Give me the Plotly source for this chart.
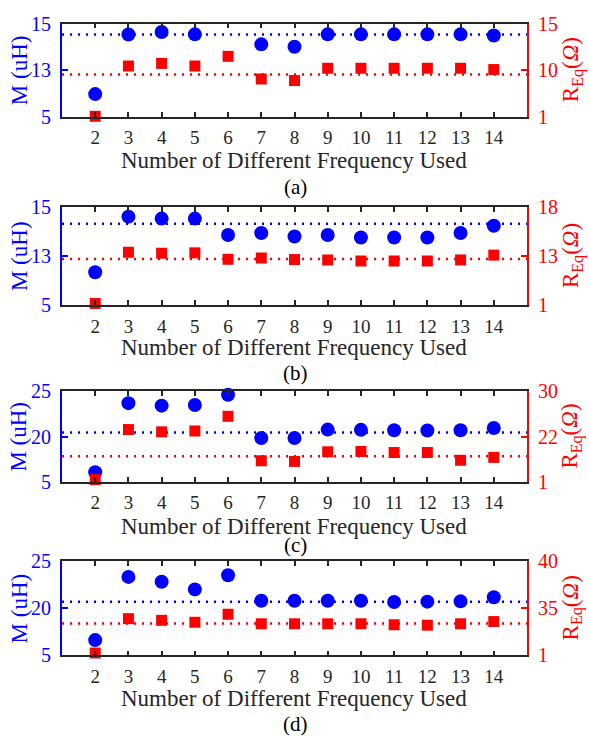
import numpy as np
import plotly.graph_objects as go

# ---------------- data ----------------
freq_used = [2, 3, 4, 5, 6, 7, 8, 9, 10, 11, 12, 13, 14]
x_ticks = list(range(2, 15))

# panel (a)
m_a = [8.9, 14.53, 14.64, 14.54, None, 14.11, 14.01, 14.54, 14.54, 14.54, 14.54, 14.54, 14.49]
r_a = [1.1, 10.45, 10.73, 10.45, 11.49, 8.31, 8.0, 10.21, 10.21, 10.21, 10.21, 10.21, 10.07]
m_ref_a = 14.53
r_ref_a = 9.19
m_ticks_a = [5, 13, 15]
r_ticks_a = [1, 10, 15]

# panel (b)
m_b = [10.37, 14.61, 14.53, 14.53, 13.86, 13.94, 13.80, 13.86, 13.76, 13.76, 13.76, 13.94, 14.24]
r_b = [1.4, 13.39, 13.29, 13.33, 12.22, 12.53, 12.15, 12.05, 11.8, 11.8, 11.8, 12.05, 13.1]
m_ref_b = 14.32
r_ref_b = 12.29
m_ticks_b = [5, 13, 15]
r_ticks_b = [1, 13, 18]

# panel (c)
m_c = [8.2, 23.71, 23.43, 23.5, 24.64, 19.55, 19.55, 20.78, 20.75, 20.71, 20.68, 20.71, 20.96]
r_c = [2.0, 23.25, 22.85, 23.0, 25.6, 10.76, 10.46, 14.94, 15.1, 14.6, 14.6, 11.0, 12.35]
m_ref_c = 20.46
r_ref_c = 12.83
m_ticks_c = [5, 20, 25]
r_ticks_c = [1, 22, 30]

# panel (d)
m_d = [9.9, 23.35, 22.84, 22.02, 23.53, 20.82, 20.82, 20.82, 20.82, 20.68, 20.72, 20.75, 21.19]
r_d = [2.8, 27.6, 26.4, 25.0, 30.8, 23.9, 23.9, 23.9, 23.9, 23.2, 22.9, 23.9, 25.5]
m_ref_d = 20.72
r_ref_d = 24.1
m_ticks_d = [5, 20, 25]
r_ticks_d = [1, 35, 40]

panel_labels = ["(a)", "(b)", "(c)", "(d)"]
x_title = "Number of Different Frequency Used"
m_title = "M (uH)"
r_title = "R<sub>Eq</sub>(<i>Ω</i>)"

# ---------------- styling / layout ----------------
W, H = 589, 749
BLUE = "#0000FF"
RED = "#FF0000"
DARK = "#262626"
FONT = "Times New Roman, Liberation Serif, DejaVu Serif, serif"

x_left_px, x_right_px = 62, 527
panel_px = [(13, 109), (202, 303), (392, 485), (567, 664)]
xlabel_px = [154, 347, 531, 708]
plabel_px = [181, 373, 550, 735]

panels = [
    (m_a, r_a, m_ref_a, r_ref_a, m_ticks_a, r_ticks_a),
    (m_b, r_b, m_ref_b, r_ref_b, m_ticks_b, r_ticks_b),
    (m_c, r_c, m_ref_c, r_ref_c, m_ticks_c, r_ticks_c),
    (m_d, r_d, m_ref_d, r_ref_d, m_ticks_d, r_ticks_d),
]

pos = [0, 1, 2]  # broken scale: each labelled tick evenly spaced


def to_axis(vals, ticks):
    return [None if v is None else float(np.interp(v, ticks, pos)) for v in vals]


fig = go.Figure()
annotations = []
layout = {}

xd = [x_left_px / W, x_right_px / W]

for k, (m, r, m_ref, r_ref, mt, rt) in enumerate(panels):
    i = k + 1
    xa = "x" if i == 1 else f"x{i}"
    yl_n = 2 * i - 1
    yr_n = 2 * i
    yl = "y" if yl_n == 1 else f"y{yl_n}"
    yr = f"y{yr_n}"
    top, bot = panel_px[k]
    yd = [1 - bot / H, 1 - top / H]

    # reference dotted lines
    fig.add_trace(go.Scatter(
        x=[1, 15], y=to_axis([m_ref, m_ref], mt), mode="lines",
        line=dict(color=BLUE, width=2.5, dash="2px,6px"),
        xaxis=xa, yaxis=yl, showlegend=False, hoverinfo="skip"))
    fig.add_trace(go.Scatter(
        x=[1, 15], y=to_axis([r_ref, r_ref], rt), mode="lines",
        line=dict(color=RED, width=2.5, dash="2px,6px"),
        xaxis=xa, yaxis=yr, showlegend=False, hoverinfo="skip"))
    # markers
    fig.add_trace(go.Scatter(
        x=freq_used, y=to_axis(m, mt), mode="markers",
        marker=dict(symbol="circle", size=14, color=BLUE, line=dict(width=0)),
        xaxis=xa, yaxis=yl, showlegend=False, cliponaxis=False))
    fig.add_trace(go.Scatter(
        x=freq_used, y=to_axis(r, rt), mode="markers",
        marker=dict(symbol="square", size=11, color=RED, line=dict(width=0)),
        xaxis=xa, yaxis=yr, showlegend=False, cliponaxis=False))

    layout["xaxis" if i == 1 else f"xaxis{i}"] = dict(
        domain=xd, anchor=yl, range=[1, 15], tickvals=x_ticks,
        ticks="inside", ticklen=5, tickwidth=1.5, tickcolor=DARK,
        showline=True, linecolor=DARK, linewidth=1.5, mirror="ticks",
        showgrid=False, zeroline=False,
        tickfont=dict(family=FONT, size=19, color=DARK),
        ticklabelstandoff=3,
    )
    layout["yaxis" if yl_n == 1 else f"yaxis{yl_n}"] = dict(
        domain=yd, anchor=xa, range=[0, 2], tickvals=pos,
        ticktext=[str(t) for t in mt], side="left",
        ticks="inside", ticklen=6, tickwidth=1.5, tickcolor=BLUE,
        showline=True, linecolor=BLUE, linewidth=2,
        showgrid=False, zeroline=False,
        tickfont=dict(family=FONT, size=20, color=BLUE),
        ticklabelstandoff=5,
    )
    layout[f"yaxis{yr_n}"] = dict(
        domain=yd, anchor=xa, overlaying=yl, range=[0, 2], tickvals=pos,
        ticktext=[str(t) for t in rt], side="right",
        ticks="inside", ticklen=6, tickwidth=1.5, tickcolor=RED,
        showline=True, linecolor=RED, linewidth=2,
        showgrid=False, zeroline=False,
        tickfont=dict(family=FONT, size=20, color=RED),
        ticklabelstandoff=5,
    )

    ymid = 1 - (top + bot) / 2 / H
    annotations.append(dict(
        text=m_title, xref="paper", yref="paper", x=19 / W, y=ymid,
        xanchor="center", yanchor="middle", textangle=-90, showarrow=False,
        font=dict(family=FONT, size=23, color=BLUE)))
    annotations.append(dict(
        text=r_title, xref="paper", yref="paper", x=572 / W, y=ymid,
        xanchor="center", yanchor="middle", textangle=-90, showarrow=False,
        font=dict(family=FONT, size=23, color=RED)))
    annotations.append(dict(
        text=x_title, xref="paper", yref="paper", x=294 / W, y=1 - xlabel_px[k] / H,
        xanchor="center", yanchor="middle", showarrow=False,
        font=dict(family=FONT, size=23, color=DARK)))
    annotations.append(dict(
        text=panel_labels[k], xref="paper", yref="paper", x=295 / W, y=1 - plabel_px[k] / H,
        xanchor="center", yanchor="middle", showarrow=False,
        font=dict(family=FONT, size=21, color="#000000")))

fig.update_layout(
    width=W, height=H,
    margin=dict(l=0, r=0, t=0, b=0),
    paper_bgcolor="white", plot_bgcolor="white",
    font=dict(family=FONT),
    annotations=annotations,
    **layout,
)

fig.write_html("out.html")
